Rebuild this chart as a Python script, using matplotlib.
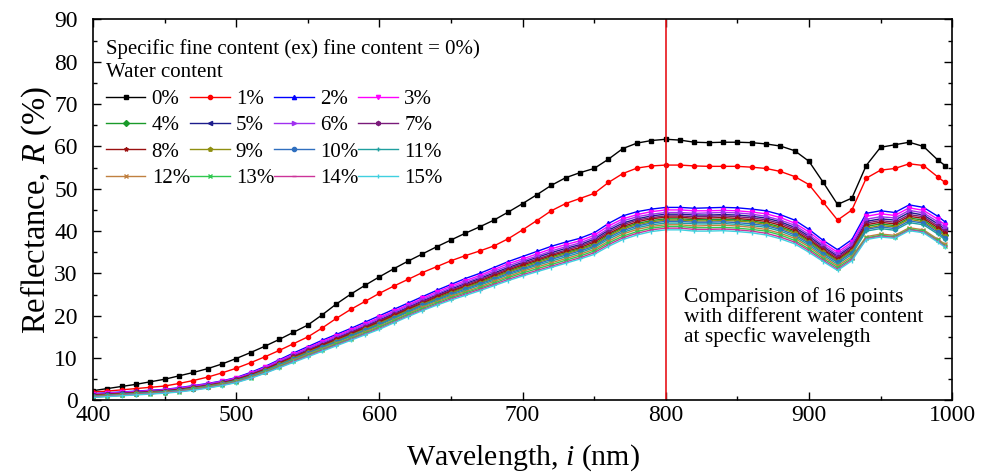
import matplotlib
matplotlib.use('Agg')
import matplotlib.pyplot as plt
from matplotlib.ticker import MultipleLocator

plt.rcParams['font.family'] = ['Liberation Serif', 'DejaVu Serif']
plt.rcParams['mathtext.fontset'] = 'custom'
plt.rcParams['mathtext.it'] = 'Liberation Serif:italic'
plt.rcParams['mathtext.rm'] = 'Liberation Serif'

# wavelength grid (nm)
wavelength = [400, 410, 420, 430, 440, 450, 460, 470, 480, 490,
              500, 510, 520, 530, 540, 550, 560, 570, 580, 590,
              600, 610, 620, 630, 640, 650, 660, 670, 680, 690,
              700, 710, 720, 730, 740, 750, 760, 770, 780, 790,
              800, 810, 820, 830, 840, 850, 860, 870, 880, 890,
              900, 910, 920, 930, 940, 950, 960, 970, 980, 990, 995]

# reflectance (%) for each water content
r_00 = [2.3, 2.8, 3.3, 3.8, 4.4, 5.0, 5.8, 6.6, 7.5, 8.6,
        9.9, 11.3, 12.8, 14.4, 16.1, 17.8, 20.2, 22.8, 25.1, 27.2,
        29.2, 31.1, 32.9, 34.6, 36.3, 37.9, 39.5, 41.0, 42.6, 44.5,
        46.5, 48.6, 50.8, 52.6, 53.8, 54.8, 57.0, 59.5, 60.8, 61.4,
        61.7, 61.5, 61.0, 60.9, 61.0, 61.0, 60.9, 60.6, 60.1, 59.0,
        56.5, 51.5, 46.3, 47.8, 55.5, 59.8, 60.4, 61.0, 60.0, 56.8, 55.5]
r_01 = [2.0, 2.2, 2.5, 2.8, 3.1, 3.4, 4.0, 4.7, 5.5, 6.5,
        7.6, 8.9, 10.3, 11.8, 13.4, 15.0, 17.1, 19.4, 21.5, 23.4,
        25.3, 27.0, 28.6, 30.2, 31.6, 33.0, 34.2, 35.3, 36.5, 38.2,
        40.3, 42.5, 44.8, 46.5, 47.7, 48.9, 51.5, 53.6, 54.9, 55.4,
        55.6, 55.6, 55.4, 55.3, 55.3, 55.3, 55.1, 54.8, 54.1, 52.9,
        51.0, 46.8, 42.6, 45.0, 52.5, 54.4, 54.8, 55.9, 55.5, 52.8, 51.5]
r_02 = [1.6, 1.8, 2.0, 2.2, 2.4, 2.6, 3.0, 3.5, 4.0, 4.6,
        5.4, 6.6, 8.0, 9.6, 11.2, 12.7, 14.2, 15.6, 17.0, 18.5,
        20.0, 21.5, 23.0, 24.5, 26.0, 27.4, 28.8, 30.0, 31.4, 32.8,
        34.0, 35.2, 36.4, 37.4, 38.3, 39.6, 41.8, 43.6, 44.6, 45.2,
        45.6, 45.6, 45.4, 45.5, 45.6, 45.5, 45.2, 44.8, 43.9, 42.6,
        40.4, 37.8, 35.6, 38.0, 44.2, 44.8, 44.4, 46.2, 45.6, 43.5, 42.2]
r_03 = [1.5, 1.7, 1.9, 2.1, 2.3, 2.5, 2.9, 3.4, 3.9, 4.5,
        5.3, 6.4, 7.8, 9.4, 10.9, 12.4, 13.9, 15.3, 16.7, 18.1,
        19.6, 21.1, 22.6, 24.1, 25.6, 27.0, 28.3, 29.5, 30.9, 32.3,
        33.4, 34.6, 35.8, 36.8, 37.7, 39.0, 41.2, 42.9, 43.9, 44.6,
        45.0, 45.0, 44.8, 44.8, 44.9, 44.8, 44.5, 44.1, 43.2, 41.9,
        39.8, 37.2, 35.0, 37.4, 43.5, 44.1, 43.7, 45.5, 44.9, 42.8, 41.5]
r_04 = [1.1, 1.3, 1.5, 1.7, 1.9, 2.1, 2.5, 2.9, 3.4, 4.0,
        4.8, 5.9, 7.2, 8.6, 10.1, 11.5, 12.9, 14.2, 15.6, 17.0,
        18.4, 19.9, 21.4, 22.8, 24.2, 25.5, 26.8, 27.9, 29.2, 30.5,
        31.7, 32.8, 33.9, 34.9, 35.8, 37.0, 39.1, 40.8, 41.8, 42.5,
        42.9, 42.9, 42.7, 42.7, 42.8, 42.7, 42.4, 41.9, 41.0, 39.8,
        37.7, 35.3, 33.1, 35.5, 41.1, 41.7, 41.3, 43.1, 42.6, 40.4, 39.2]
r_05 = [1.3, 1.5, 1.7, 1.9, 2.1, 2.3, 2.7, 3.2, 3.7, 4.3,
        5.0, 6.2, 7.5, 9.0, 10.5, 12.0, 13.4, 14.8, 16.2, 17.6,
        19.0, 20.5, 22.0, 23.5, 24.9, 26.3, 27.6, 28.8, 30.1, 31.4,
        32.6, 33.8, 34.9, 35.9, 36.8, 38.1, 40.2, 41.9, 42.9, 43.6,
        44.0, 44.0, 43.8, 43.8, 43.9, 43.8, 43.5, 43.1, 42.2, 40.9,
        38.8, 36.3, 34.1, 36.5, 42.3, 42.9, 42.6, 44.4, 43.8, 41.7, 40.4]
r_06 = [1.4, 1.6, 1.8, 2.0, 2.2, 2.4, 2.8, 3.3, 3.8, 4.4,
        5.1, 6.3, 7.6, 9.2, 10.7, 12.2, 13.6, 15.0, 16.4, 17.8,
        19.3, 20.8, 22.3, 23.8, 25.2, 26.6, 27.9, 29.1, 30.5, 31.8,
        33.0, 34.1, 35.3, 36.3, 37.2, 38.5, 40.6, 42.4, 43.4, 44.0,
        44.4, 44.4, 44.2, 44.3, 44.4, 44.3, 44.0, 43.5, 42.6, 41.4,
        39.2, 36.7, 34.5, 36.9, 42.8, 43.4, 43.1, 44.9, 44.3, 42.2, 40.9]
r_07 = [1.3, 1.5, 1.7, 1.9, 2.1, 2.3, 2.6, 3.1, 3.6, 4.2,
        5.0, 6.1, 7.4, 8.9, 10.4, 11.8, 13.2, 14.6, 16.0, 17.4,
        18.8, 20.3, 21.8, 23.3, 24.7, 26.0, 27.3, 28.5, 29.8, 31.1,
        32.3, 33.4, 34.5, 35.5, 36.5, 37.7, 39.8, 41.5, 42.6, 43.2,
        43.6, 43.6, 43.4, 43.5, 43.6, 43.4, 43.1, 42.7, 41.8, 40.5,
        38.4, 35.9, 33.8, 36.1, 41.9, 42.5, 42.1, 43.9, 43.4, 41.2, 40.0]
r_08 = [1.2, 1.4, 1.6, 1.8, 2.0, 2.2, 2.6, 3.0, 3.5, 4.1,
        4.9, 6.0, 7.3, 8.8, 10.2, 11.6, 13.1, 14.4, 15.8, 17.2,
        18.6, 20.1, 21.6, 23.0, 24.5, 25.8, 27.0, 28.2, 29.5, 30.8,
        32.0, 33.1, 34.2, 35.2, 36.1, 37.4, 39.4, 41.1, 42.2, 42.9,
        43.3, 43.3, 43.0, 43.1, 43.2, 43.0, 42.7, 42.3, 41.4, 40.1,
        38.0, 35.6, 33.4, 35.8, 41.5, 42.1, 41.7, 43.5, 43.0, 40.8, 39.6]
r_09 = [1.1, 1.3, 1.5, 1.7, 1.9, 2.1, 2.4, 2.9, 3.4, 4.0,
        4.7, 5.8, 7.1, 8.5, 10.0, 11.4, 12.7, 14.1, 15.4, 16.8,
        18.2, 19.7, 21.2, 22.7, 24.0, 25.3, 26.6, 27.7, 29.0, 30.3,
        31.4, 32.5, 33.6, 34.6, 35.6, 36.7, 38.8, 40.5, 41.5, 42.2,
        42.6, 42.6, 42.4, 42.4, 42.5, 42.4, 42.1, 41.6, 40.7, 39.5,
        37.4, 35.0, 32.9, 35.2, 40.7, 41.3, 41.0, 42.8, 42.2, 40.1, 38.8]
r_10 = [1.0, 1.2, 1.4, 1.6, 1.8, 2.0, 2.4, 2.8, 3.3, 3.9,
        4.7, 5.7, 7.0, 8.4, 9.8, 11.2, 12.6, 13.9, 15.3, 16.6,
        18.0, 19.5, 21.0, 22.5, 23.8, 25.1, 26.3, 27.5, 28.7, 30.0,
        31.1, 32.2, 33.3, 34.3, 35.3, 36.4, 38.5, 40.1, 41.2, 41.9,
        42.3, 42.3, 42.1, 42.1, 42.2, 42.0, 41.7, 41.3, 40.4, 39.1,
        37.1, 34.7, 32.6, 34.9, 40.4, 41.0, 40.6, 42.4, 41.9, 39.7, 38.4]
r_11 = [1.0, 1.2, 1.4, 1.6, 1.8, 2.0, 2.3, 2.7, 3.2, 3.8,
        4.6, 5.6, 6.9, 8.3, 9.7, 11.0, 12.4, 13.7, 15.1, 16.4,
        17.8, 19.3, 20.8, 22.2, 23.6, 24.8, 26.0, 27.2, 28.4, 29.7,
        30.8, 31.9, 32.9, 33.9, 34.9, 36.1, 38.1, 39.7, 40.8, 41.5,
        41.9, 41.9, 41.7, 41.7, 41.8, 41.6, 41.3, 40.9, 40.0, 38.7,
        36.7, 34.3, 32.2, 34.5, 40.0, 40.6, 40.2, 42.0, 41.5, 39.3, 38.0]
r_12 = [0.9, 1.1, 1.3, 1.5, 1.7, 1.9, 2.2, 2.7, 3.2, 3.8,
        4.5, 5.5, 6.8, 8.1, 9.5, 10.9, 12.2, 13.5, 14.8, 16.2,
        17.5, 19.0, 20.5, 22.0, 23.3, 24.6, 25.7, 26.8, 28.1, 29.3,
        30.5, 31.5, 32.5, 33.5, 34.5, 35.7, 37.6, 39.3, 40.4, 41.1,
        41.5, 41.5, 41.2, 41.3, 41.4, 41.2, 40.9, 40.4, 39.5, 38.3,
        36.3, 33.9, 31.8, 34.0, 38.7, 39.3, 39.0, 40.8, 40.3, 38.1, 36.9]
r_13 = [0.8, 1.0, 1.2, 1.4, 1.6, 1.8, 2.1, 2.6, 3.1, 3.7,
        4.4, 5.4, 6.6, 8.0, 9.3, 10.7, 12.0, 13.3, 14.6, 15.9,
        17.3, 18.8, 20.3, 21.7, 23.0, 24.3, 25.4, 26.5, 27.7, 29.0,
        30.1, 31.1, 32.1, 33.1, 34.1, 35.3, 37.2, 38.8, 39.9, 40.7,
        41.1, 41.1, 40.8, 40.8, 40.9, 40.7, 40.4, 40.0, 39.1, 37.8,
        35.8, 33.5, 31.4, 33.6, 38.4, 39.0, 38.7, 40.5, 40.0, 37.8, 36.6]
r_14 = [0.8, 1.0, 1.2, 1.4, 1.6, 1.8, 2.1, 2.5, 3.0, 3.6,
        4.3, 5.3, 6.5, 7.8, 9.2, 10.5, 11.8, 13.1, 14.4, 15.7,
        17.0, 18.5, 20.0, 21.4, 22.7, 24.0, 25.1, 26.2, 27.4, 28.6,
        29.7, 30.7, 31.7, 32.7, 33.7, 34.9, 36.8, 38.4, 39.5, 40.3,
        40.7, 40.7, 40.4, 40.4, 40.5, 40.3, 40.0, 39.5, 38.6, 37.4,
        35.4, 33.1, 31.0, 33.3, 38.2, 38.8, 38.5, 40.3, 39.8, 37.6, 36.4]
r_15 = [0.7, 0.9, 1.1, 1.3, 1.5, 1.7, 2.0, 2.4, 2.9, 3.5,
        4.2, 5.2, 6.4, 7.7, 9.0, 10.3, 11.6, 12.9, 14.2, 15.5,
        16.8, 18.3, 19.8, 21.2, 22.5, 23.7, 24.8, 25.9, 27.1, 28.3,
        29.4, 30.4, 31.4, 32.4, 33.4, 34.5, 36.4, 38.0, 39.1, 39.9,
        40.3, 40.3, 40.0, 40.0, 40.1, 39.9, 39.6, 39.1, 38.2, 37.0,
        35.0, 32.8, 30.7, 33.0, 38.0, 38.6, 38.3, 40.1, 39.6, 37.4, 36.2]

series = [r_00, r_01, r_02, r_03, r_04, r_05, r_06, r_07,
          r_08, r_09, r_10, r_11, r_12, r_13, r_14, r_15]
labels = ['0%', '1%', '2%', '3%', '4%', '5%', '6%', '7%',
          '8%', '9%', '10%', '11%', '12%', '13%', '14%', '15%']
colors = ['#000000', '#ff0000', '#0000ff', '#ff00ff', '#1a9a2a', '#1c1c8c',
          '#a030f0', '#7a1a7a', '#9a1010', '#8f8f10', '#2f6fbf', '#1f9f9f',
          '#c08040', '#30c850', '#cc3399', '#40d0e0']
markers = ['s', 'o', '^', 'v', 'D', '<', '>', 'h',
           '*', 'p', 'o', '+', 'x', 'x', '_', '|']

fig = plt.figure(figsize=(9.83, 4.75), dpi=100)
ax = fig.add_axes([0.0946, 0.157, 0.874, 0.802])

lines = []
for vals, lab, c, m in zip(series, labels, colors, markers):
    ln, = ax.plot(wavelength, vals, color=c, marker=m, markersize=3, lw=1.0, label=lab)
    lines.append(ln)

ax.axvline(800, color='#e8141a', lw=1.2)

ax.text(813, 26.8, 'Comparision of 16 points\nwith different water content\nat specfic wavelength',
        fontsize=15.5, va='top', ha='left', linespacing=1.05)

ax.set_xlim(400, 1000)
ax.set_ylim(0, 90)
ax.xaxis.set_major_locator(MultipleLocator(100))
ax.xaxis.set_minor_locator(MultipleLocator(50))
ax.yaxis.set_major_locator(MultipleLocator(10))
ax.yaxis.set_minor_locator(MultipleLocator(5))
ax.tick_params(which='both', direction='in', top=True, right=True, labelsize=17, width=1)
ax.tick_params(which='major', length=6)
ax.tick_params(which='minor', length=3)
ax.tick_params(axis='y', pad=11)
ax.tick_params(axis='x', pad=3)
for s in ax.spines.values():
    s.set_linewidth(1.2)

ax.set_xlabel('Wavelength, $\\mathit{i}$ (nm)', fontsize=21.5, labelpad=12)
ax.set_ylabel('Reflectance, $\\mathit{R}$ (%)', fontsize=23.5, labelpad=0)

# row-major ordering for a 4-column legend
order = [0, 4, 8, 12, 1, 5, 9, 13, 2, 6, 10, 14, 3, 7, 11, 15]
leg = ax.legend([lines[i] for i in order], [labels[i] for i in order],
                ncol=4, loc='upper left', bbox_to_anchor=(-0.008, 1.0), frameon=False,
                fontsize=15, title='Specific fine content (ex) fine content = 0%)\nWater content',
                title_fontsize=15, alignment='left', handlelength=1.9, handletextpad=0.3,
                columnspacing=0.0, labelspacing=0.33, borderaxespad=0.55)
leg.get_title().set_linespacing(1.3)

fig.savefig('out.png', dpi=100)
